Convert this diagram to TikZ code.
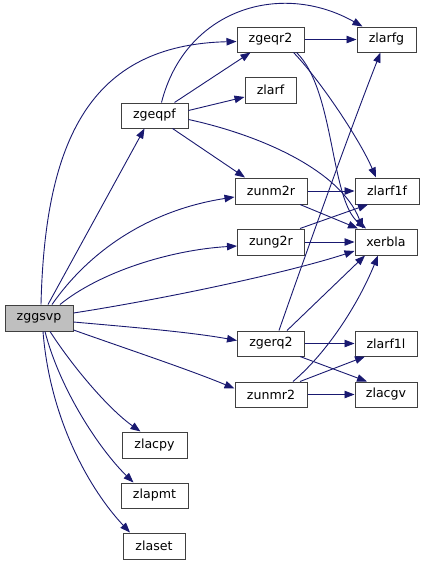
\documentclass[tikz,border=0pt]{standalone}
\usepackage{fontspec}
\setmainfont{DejaVu Sans}
\usetikzlibrary{arrows.meta}
\definecolor{edgeblue}{HTML}{191970}
\definecolor{boxgray}{HTML}{BFBFBF}
\definecolor{border}{HTML}{404040}
\begin{document}
\begin{tikzpicture}[x=1pt,y=-1pt,
  fn/.style={draw=border,line width=1pt,fill=white,inner sep=0pt,font=\fontsize{12.6}{15}\selectfont},
  root/.style={fn,fill=boxgray},
  call/.style={draw=edgeblue,line width=0.9pt,-{Triangle[length=10pt,width=7.5pt]}}]
\useasboundingbox (0,0) rectangle (424,565);
% nodes
\node[root,minimum width=68pt,minimum height=26pt] (zggsvp) at (39,318) {zggsvp};
\node[fn,minimum width=67pt,minimum height=25pt] (zgeqpf) at (154.5,115.5) {zgeqpf};
\node[fn,minimum width=67pt,minimum height=25pt] (zgeqr2) at (270.5,39.5) {zgeqr2};
\node[fn,minimum width=59pt,minimum height=25pt] (zlarfg) at (386.5,39.5) {zlarfg};
\node[fn,minimum width=51pt,minimum height=26pt] (zlarf) at (270.5,90) {zlarf};
\node[fn,minimum width=72pt,minimum height=26pt] (zunm2r) at (271,191) {zunm2r};
\node[fn,minimum width=64pt,minimum height=26pt] (zlarf1f) at (387,191) {zlarf1f};
\node[fn,minimum width=67pt,minimum height=26pt] (zung2r) at (271,242) {zung2r};
\node[fn,minimum width=62pt,minimum height=26pt] (xerbla) at (386,242) {xerbla};
\node[fn,minimum width=67pt,minimum height=25pt] (zgerq2) at (271,343.5) {zgerq2};
\node[fn,minimum width=62pt,minimum height=25pt] (zlarf1l) at (386,343.5) {zlarf1l};
\node[fn,minimum width=72pt,minimum height=25pt] (zunmr2) at (271,394.5) {zunmr2};
\node[fn,minimum width=62pt,minimum height=25pt] (zlacgv) at (386,394.5) {zlacgv};
\node[fn,minimum width=65pt,minimum height=26pt] (zlacpy) at (154.5,445) {zlacpy};
\node[fn,minimum width=67pt,minimum height=25pt] (zlapmt) at (154.5,495.5) {zlapmt};
\node[fn,minimum width=62pt,minimum height=26pt] (zlaset) at (154,546) {zlaset};
% edges from zggsvp
\draw[call] ([xshift=9]zggsvp.north) -- ([xshift=-10]zgeqpf.south);
\draw[call] ([xshift=2]zggsvp.north) .. controls (45,140) and (90,45) .. ([yshift=-2]zgeqr2.west);
\draw[call] ([xshift=13]zggsvp.north) .. controls (90,250) and (150,210) .. ([yshift=-6]zunm2r.west);
\draw[call] ([xshift=21]zggsvp.north) .. controls (100,272) and (170,250) .. ([yshift=-4]zung2r.west);
\draw[call] ([yshift=5]zggsvp.east) .. controls (170,298) and (290,272) .. ([yshift=-9]xerbla.west);
\draw[call] ([yshift=-4]zggsvp.east) .. controls (130,327) and (190,332) .. ([yshift=3]zgerq2.west);
\draw[call] ([yshift=-12]zggsvp.east) .. controls (130,350) and (190,370) .. ([yshift=6]zunmr2.west);
\draw[call] ([xshift=11]zggsvp.south) .. controls (75,370) and (110,410) .. ([xshift=-14]zlacpy.north);
\draw[call] ([xshift=6]zggsvp.south) .. controls (60,390) and (100,450) .. ([xshift=-21]zlapmt.north);
\draw[call] ([xshift=4]zggsvp.south) .. controls (50,420) and (90,490) .. ([xshift=-24]zlaset.north);
% edges from zgeqpf
\draw[call] ([xshift=7]zgeqpf.north) .. controls (185,10) and (280,-20) .. ([xshift=-24]zlarfg.north);
\draw[call] ([xshift=20]zgeqpf.north) -- ([xshift=-20]zgeqr2.south);
\draw[call] ([yshift=5]zgeqpf.east) -- ([yshift=-7]zlarf.west);
\draw[call] ([xshift=18]zgeqpf.south) -- ([xshift=-26]zunm2r.north);
\draw[call] ([yshift=-4]zgeqpf.east) .. controls (260,135) and (340,170) .. ([xshift=-23]xerbla.north);
% edges from zgeqr2
\draw[call] (zgeqr2.east) -- (zlarfg.west);
\draw[call] ([xshift=23]zgeqr2.south) .. controls (320,80) and (360,140) .. ([xshift=-11]zlarf1f.north);
\draw[call] ([xshift=26]zgeqr2.south) .. controls (335,90) and (330,200) .. ([xshift=-20]xerbla.north);
% edges from zunm2r
\draw[call] (zunm2r.east) -- (zlarf1f.west);
\draw[call] ([xshift=29]zunm2r.south) -- ([xshift=-28]xerbla.north);
% edges from zung2r
\draw[call] ([xshift=29]zung2r.north) -- ([xshift=-19]zlarf1f.south);
\draw[call] (zung2r.east) -- (xerbla.west);
% edges from zgerq2
\draw[call] ([xshift=8]zgerq2.north) .. controls (300,270) and (350,130) .. ([xshift=-6]zlarfg.south);
\draw[call] ([xshift=16]zgerq2.north) -- ([xshift=-21]xerbla.south);
\draw[call] (zgerq2.east) -- (zlarf1l.west);
\draw[call] ([xshift=29]zgerq2.south) -- ([xshift=-19]zlacgv.north);
% edges from zunmr2
\draw[call] ([xshift=22]zunmr2.north) .. controls (330,350) and (360,300) .. ([xshift=-8]xerbla.south);
\draw[call] ([xshift=29]zunmr2.north) -- ([xshift=-21]zlarf1l.south);
\draw[call] (zunmr2.east) -- (zlacgv.west);
\end{tikzpicture}
\end{document}
